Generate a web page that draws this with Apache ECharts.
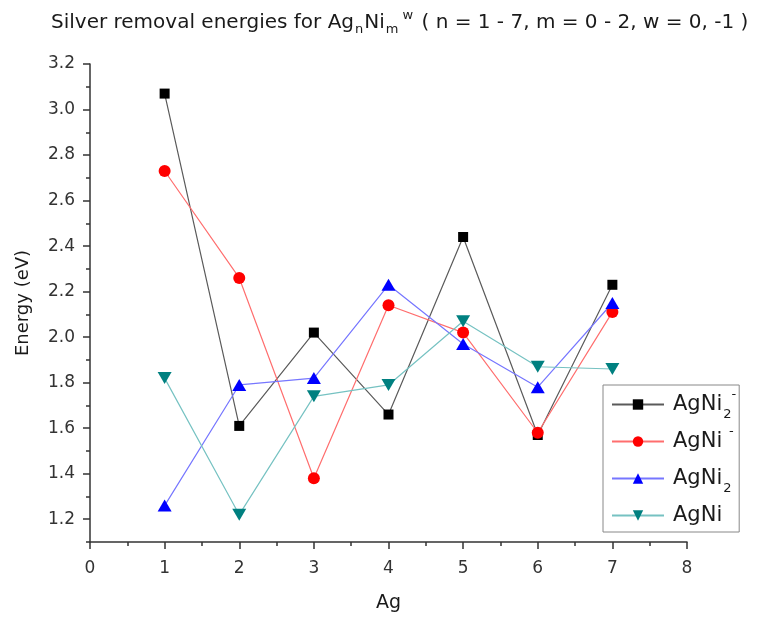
<!DOCTYPE html>
<html>
<head>
<meta charset="utf-8">
<script src="https://cdn.jsdelivr.net/npm/echarts@6/dist/echarts.min.js"></script>
<style>
  html, body { margin: 0; padding: 0; background: #fff; }
  #chart { width: 775px; height: 618px; }
</style>
</head>
<body>
<div id="chart"></div>
<script>
// Number of silver atoms (x axis)
const agCount = [1, 2, 3, 4, 5, 6, 7];

// Silver removal energies (eV) per cluster family
const agNi2Anion = [3.07, 1.61, 2.02, 1.66, 2.44, 1.57, 2.23];
const agNiAnion  = [2.73, 2.26, 1.38, 2.14, 2.02, 1.58, 2.11];
const agNi2      = [1.26, 1.79, 1.82, 2.23, 1.97, 1.78, 2.15];
const agNi       = [1.82, 1.22, 1.74, 1.79, 2.07, 1.87, 1.86];

// Axis ticks
const xTicks = [0, 1, 2, 3, 4, 5, 6, 7, 8];
const yTicks = [1.2, 1.4, 1.6, 1.8, 2.0, 2.2, 2.4, 2.6, 2.8, 3.0, 3.2];
const yMinorTicks = [1.1, 1.3, 1.5, 1.7, 1.9, 2.1, 2.3, 2.5, 2.7, 2.9, 3.1];

const FONT = '"DejaVu Sans", sans-serif';
const TEXT_COLOR = '#1a1a1a';
const AXIS_COLOR = '#333';

function pairs(ys) {
  return agCount.map((x, i) => [x, ys[i]]);
}

const chart = echarts.init(document.getElementById('chart'));

const seriesDefs = [
  { name: 'AgNi2-', data: agNi2Anion, marker: '#000000', line: '#5a5a5a', symbol: 'rect', size: 10, rotate: 0 },
  { name: 'AgNi-',  data: agNiAnion,  marker: '#ff0000', line: '#ff6e6e', symbol: 'circle', size: 12, rotate: 0 },
  { name: 'AgNi2',  data: agNi2,      marker: '#0000ff', line: '#7676ff', symbol: 'triangle', size: [14, 12], rotate: 0 },
  { name: 'AgNi',   data: agNi,       marker: '#008080', line: '#76c2c2', symbol: 'triangle', size: [14, 12], rotate: 180 }
];

const legendLabels = {
  'AgNi2-': 'AgNi{sub|2}{sup|-}',
  'AgNi-':  'AgNi {sup|-}',
  'AgNi2':  'AgNi{sub|2}',
  'AgNi':   'AgNi'
};

chart.setOption({
  backgroundColor: '#ffffff',
  animation: false,
  title: {
    text: 'Silver removal energies for Ag{sub|n}Ni{sub|m}{sup|w} ( n = 1 - 7, m = 0 - 2, w = 0, -1 )',
    left: 46,
    top: 8,
    textStyle: {
      fontFamily: FONT,
      fontSize: 20,
      fontWeight: 'normal',
      color: TEXT_COLOR,
      rich: {
        sub: { fontFamily: FONT, fontSize: 13, color: TEXT_COLOR, lineHeight: 13, padding: [14, 1, 0, 1] },
        sup: { fontFamily: FONT, fontSize: 13, color: TEXT_COLOR, lineHeight: 13, padding: [0, 2, 14, 3] }
      }
    }
  },
  legend: {
    orient: 'vertical',
    left: 603,
    top: 385,
    padding: [3, 3, 0, 8],
    itemWidth: 52,
    itemHeight: 13,
    itemGap: 4,
    borderColor: '#888',
    borderWidth: 1,
    data: seriesDefs.map(s => s.name),
    formatter: name => legendLabels[name],
    textStyle: {
      fontFamily: FONT,
      fontSize: 21,
      lineHeight: 33,
      color: TEXT_COLOR,
      padding: [0, 0, 0, 4],
      rich: {
        sub: { fontFamily: FONT, fontSize: 13, color: TEXT_COLOR, lineHeight: 13, padding: [20, 0, 0, 1] },
        sup: { fontFamily: FONT, fontSize: 13, color: TEXT_COLOR, lineHeight: 13, padding: [0, 0, 20, 0] }
      }
    }
  },
  grid: { left: 90, right: 88, top: 64, bottom: 72, containLabel: false },
  xAxis: {
    type: 'value',
    min: xTicks[0],
    max: xTicks[xTicks.length - 1],
    interval: 1,
    name: 'Ag',
    nameLocation: 'middle',
    nameGap: 52,
    nameTextStyle: { fontFamily: FONT, fontSize: 19, color: TEXT_COLOR },
    axisLine: { show: true, onZero: false, lineStyle: { color: AXIS_COLOR, width: 1.5 } },
    axisTick: { show: true, inside: false, length: 7, lineStyle: { color: AXIS_COLOR, width: 1.5 } },
    minorTick: { show: true, splitNumber: 2, length: 4, lineStyle: { color: AXIS_COLOR, width: 1.5 } },
    axisLabel: { fontFamily: FONT, fontSize: 17, color: '#333', margin: 18 },
    splitLine: { show: false }
  },
  yAxis: [
    {
      type: 'value',
      min: 1.1,
      max: 3.2,
      name: 'Energy (eV)',
      nameLocation: 'middle',
      nameGap: 58,
      nameTextStyle: { fontFamily: FONT, fontSize: 18, color: TEXT_COLOR },
      axisLine: { show: true, onZero: false, lineStyle: { color: AXIS_COLOR, width: 1.5 } },
      axisTick: { show: true, inside: false, length: 7, customValues: yTicks, lineStyle: { color: AXIS_COLOR, width: 1.5 } },
      axisLabel: {
        fontFamily: FONT, fontSize: 17, color: '#333', margin: 15,
        customValues: yTicks,
        formatter: v => v.toFixed(1)
      },
      splitLine: { show: false }
    },
    {
      type: 'value',
      min: 1.1,
      max: 3.2,
      position: 'left',
      axisLine: { show: false },
      axisTick: { show: true, inside: false, length: 4, customValues: yMinorTicks, lineStyle: { color: AXIS_COLOR, width: 1.5 } },
      axisLabel: { show: false },
      splitLine: { show: false }
    }
  ],
  series: seriesDefs.map(s => ({
    name: s.name,
    type: 'line',
    data: pairs(s.data),
    symbol: s.symbol,
    symbolSize: s.size,
    symbolRotate: s.rotate,
    showAllSymbol: true,
    lineStyle: { color: s.line, width: 1.2 },
    itemStyle: { color: s.marker, borderWidth: 0 },
    emphasis: { disabled: true }
  }))
});
</script>
</body>
</html>
